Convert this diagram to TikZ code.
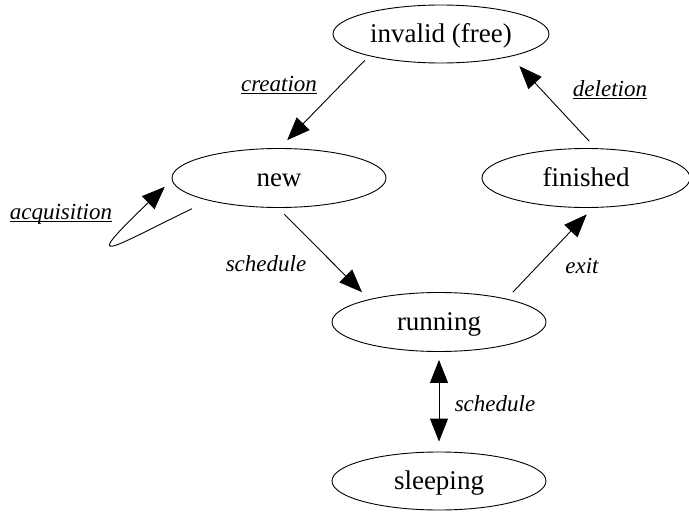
\documentclass[tikz,border=0pt]{standalone}
\usepackage{fontspec}
\setmainfont{Liberation Serif}
\usetikzlibrary{shapes.geometric,arrows.meta}
\newsavebox\ulbox
% underlined label: rule at a fixed distance under the baseline
\newcommand\ulabel[1]{\sbox\ulbox{#1}\rlap{\rule[-2.5pt]{\wd\ulbox}{0.9pt}}\usebox\ulbox}
\begin{document}
\begin{tikzpicture}[x=1pt,y=-1pt,
  state/.style={draw, ellipse, line width=0.9pt, minimum width=214pt,
    minimum height=59pt, inner sep=0pt, font=\fontsize{27}{32}\selectfont,
    text height=16pt, text depth=0pt},
  trans/.style={line width=0.9pt, -{Triangle[length=23pt,width=18pt]}},
  lbl/.style={font=\fontsize{23}{28}\selectfont\itshape, anchor=base, inner sep=0pt}]
\useasboundingbox (0,0) rectangle (689,514);

% states
\node[state, minimum width=216pt, minimum height=58pt] (invalid) at (441,34) {invalid (free)};
\node[state] (new) at (279,178) {new};
\node[state, minimum width=208pt] (finished) at (586,178) {finished};
\node[state] (running) at (439,322) {running};
\node[state, minimum height=58pt] (sleeping) at (439,481) {sleeping};

% transitions
\draw[trans, shorten <=6pt, shorten >=11pt] (invalid.197) -- (new.89);
\draw[trans, shorten <=9.5pt, shorten >=13pt] (finished.72) -- (invalid.342);
\draw[trans, shorten <=9pt, shorten >=10pt] (new.268) -- (running.162);
\draw[trans, shorten <=9pt, shorten >=9pt] (running.19) -- (finished.283);
\draw[line width=0.9pt, {Triangle[length=23pt,width=18pt]}-{Triangle[length=23pt,width=18pt]},
  shorten <=8pt, shorten >=10pt] (running.south) -- (sleeping.north);
\draw[trans] ([shift={(-17,8)}]new.198) .. controls +(-81,39) and +(-88,84.5) .. ([shift={(-10,1.5)}]new.184);

% labels
\node[lbl] (lcreation) at (279,91.5) {\ulabel{creation}};
\node[lbl] (ldeletion) at (610,96.5) {\ulabel{deletion}};
\node[lbl] (lacq) at (61,219.5) {\ulabel{acquisition}};
\node[lbl] (lsched1) at (266,271.5) {schedule};
\node[lbl] (lexit) at (582,273) {exit};
\node[lbl] (lsched2) at (495,411.5) {schedule};
\end{tikzpicture}
\end{document}
